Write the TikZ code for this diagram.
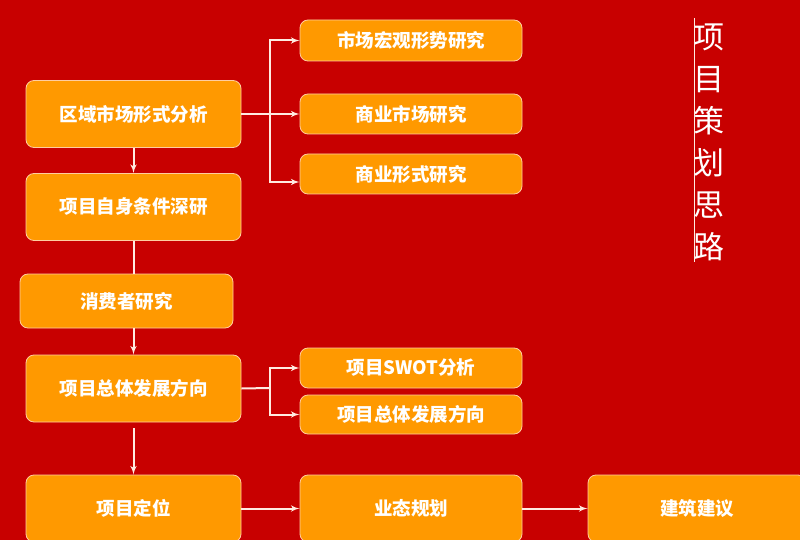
\documentclass[tikz,border=0pt]{standalone}
\usepackage{fontspec}
\setmainfont{Noto Sans CJK SC}
\usepackage{tikz}
\usetikzlibrary{shapes,arrows}
\usetikzlibrary{positioning,calc}

\definecolor{bgred}{RGB}{200,0,0}
\definecolor{boxorange}{RGB}{255,153,0}
\definecolor{boxedge}{RGB}{255,205,160}
\definecolor{linewhite}{RGB}{255,235,225}

\begin{document}
\begin{tikzpicture}[x=1pt, y=-1pt, align=center, >=latex']

%local definitions
\tikzstyle{Step} = [draw=boxedge, line width=0.8pt, fill=boxorange, rectangle, rounded corners=8pt, text=white, font=\fontsize{18.5}{20}\selectfont\bfseries, inner sep=0pt]
\tikzstyle{BigStep} = [Step, minimum width=215pt, minimum height=67pt]
\tikzstyle{SubStep} = [Step, minimum width=222pt, minimum height=40pt]
\tikzstyle{Link} = [draw=linewhite, line width=2pt]

%background
\fill[bgred] (0,0) rectangle (800,540);
\useasboundingbox (0,0) rectangle (800,540);

%left column
	\node [BigStep] (RegionAnalysis) at (133.5,114) {区域市场形式分析};
	\node [BigStep] (SelfStudy) at (133.5,207) {项目自身条件深研};
	\node [BigStep, minimum width=213pt, minimum height=54pt] (ConsumerStudy) at (126.5,301) {消费者研究};
	\node [BigStep] (Direction) at (133.5,388.5) {项目总体发展方向};
	\node [BigStep] (Positioning) at (133.5,508.5) {项目定位};

%right column
	\node [SubStep, minimum height=41pt] (MacroStudy) at (411,40.5) {市场宏观形势研究};
	\node [SubStep] (MarketStudy) at (411,114) {商业市场研究};
	\node [SubStep] (FormStudy) at (411,174) {商业形式研究};
	\node [SubStep] (SwotAnalysis) at (411,368) {项目SWOT分析};
	\node [SubStep, minimum height=39pt] (DirectionSub) at (411,414.5) {项目总体发展方向};
	\node [BigStep, minimum width=222pt] (FormatPlan) at (411,508.5) {业态规划};
	\node [BigStep, minimum width=218pt] (BuildAdvice) at (697,508.5) {建筑建议};

%title
	\node [text=white, font=\fontsize{31}{42}\selectfont, inner sep=0pt] (Title) at (709,142) {项\\目\\策\\划\\思\\路};
	\coordinate (TitleTop) at (694,18);
	\coordinate (TitleBottom) at (694,262);
	\draw [draw=linewhite, line width=0.8pt] (TitleTop) -- (TitleBottom);

%connections
	\coordinate (BranchTop) at (270,114);
	\coordinate (BranchBottom) at (270,388);
	\coordinate (FormIn) at ($(FormStudy.west)+(0,8)$);

	\draw [Link] (RegionAnalysis.east) -- (BranchTop);
	\draw [Link,->] (BranchTop) -- (MarketStudy.west);
	\draw [Link,->] (BranchTop) |- (MacroStudy.west);
	\draw [Link,->] (BranchTop) |- (FormIn);

	\draw [Link,->] (RegionAnalysis.south) -- (SelfStudy.north);
	\draw [Link] (SelfStudy.south) -- (SelfStudy.south |- ConsumerStudy.north);
	\draw [Link,->] (Direction.north |- ConsumerStudy.south) -- (Direction.north);
	\draw [Link,->,shorten <=6pt] (Direction.south) -- (Positioning.north);

	\draw [Link] (Direction.east) -- (BranchBottom);
	\draw [Link,->] (BranchBottom) |- (SwotAnalysis.west);
	\draw [Link,->] (BranchBottom) |- (DirectionSub.west);

	\draw [Link,->] (Positioning.east) -- (FormatPlan.west);
	\draw [Link,->] (FormatPlan.east) -- (BuildAdvice.west);

\end{tikzpicture}
\end{document}
